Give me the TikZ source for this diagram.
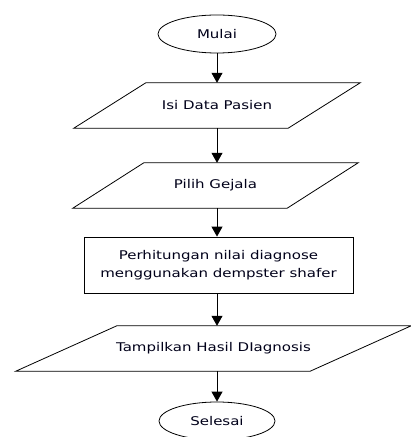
\documentclass[tikz,border=0pt]{standalone}
\usepackage{fontspec}
\setmainfont{DejaVu Sans}[FakeStretch=1.25]
\usetikzlibrary{shapes.geometric,arrows.meta,calc}
\begin{document}
\begin{tikzpicture}[x=1pt,y=1pt,
  every node/.style={font=\fontsize{12}{18}\selectfont, text=black!90!blue},
  term/.style={ellipse, draw, line width=0.8pt, minimum width=118pt, minimum height=38pt, inner sep=0pt},
  pbox/.style={draw=none, minimum height=45pt, inner sep=0pt},
  pbody/.style={draw, line width=0.8pt},
  procbox/.style={rectangle, draw, line width=0.8pt, minimum width=269pt, minimum height=56pt, align=center, inner sep=0pt},
  arr/.style={-{Triangle[length=10pt,width=11pt]}, line width=0.9pt}]
\useasboundingbox (0,0) rectangle (411,437);
\node[term] (mulai) at (217,403) {Mulai};
\node[pbox, minimum width=286pt] (p1) at (217,331.5) {Isi Data Pasien};
\draw[pbody] (p1.south west) -- ($(p1.south east)+(-72,0)$) -- (p1.north east) -- ($(p1.north west)+(72,0)$) -- cycle;
\node[pbox, minimum width=285pt] (p2) at (215.5,251.5) {Pilih Gejala};
\draw[pbody] (p2.south west) -- ($(p2.south east)+(-71,0)$) -- (p2.north east) -- ($(p2.north west)+(71,0)$) -- cycle;
\node[procbox] (proc) at (218.5,172) {Perhitungan nilai diagnose\\menggunakan dempster shafer};
\node[pbox, minimum width=395pt] (p3) at (213.5,88.5) {Tampilkan Hasil DIagnosis};
\draw[pbody] (p3.south west) -- ($(p3.south east)+(-101,0)$) -- (p3.north east) -- ($(p3.north west)+(101,0)$) -- cycle;
\node[term, minimum width=116pt] (selesai) at (217,16) {Selesai};
\draw[arr] (mulai.south) -- (mulai.south |- p1.north);
\draw[arr] (mulai.south |- p1.south) -- (mulai.south |- p2.north);
\draw[arr] (mulai.south |- p2.south) -- (mulai.south |- proc.north);
\draw[arr] (mulai.south |- proc.south) -- (mulai.south |- p3.north);
\draw[arr] (mulai.south |- p3.south) -- (selesai.north);
\end{tikzpicture}
\end{document}
